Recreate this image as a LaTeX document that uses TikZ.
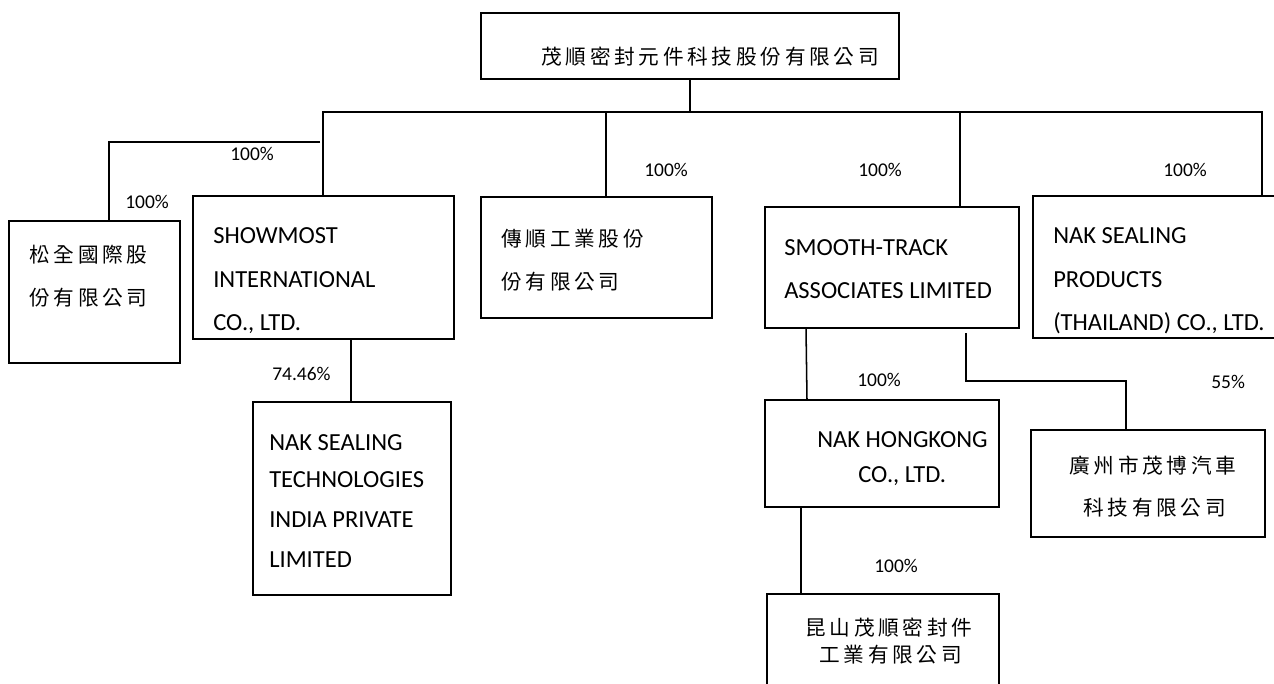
\documentclass[tikz,border=0pt]{standalone}
\usepackage{fontspec}
\setmainfont{Carlito}
\newfontfamily\cjk[LetterSpace=18]{Noto Sans CJK TC}
\newcommand\pxbox[5]{%
  \pgfmathsetmacro\bw{#4-#2}\pgfmathsetmacro\bh{#5-#3}%
  \pgfmathsetmacro\bx{(#2+#4)/2}\pgfmathsetmacro\by{(#3+#5)/2}%
  \node[orgbox,minimum width=\bw*0.75pt,minimum height=\bh*0.75pt] (#1) at (\bx,\by) {};}
\tikzset{
  orgbox/.style={draw,line width=1.15pt,inner sep=0pt,outer sep=0pt},
  link/.style={line width=1.15pt},
  en/.style={anchor=base west,inner sep=0pt,font=\fontsize{18.4pt}{20pt}\selectfont},
  zh/.style={anchor=base west,inner sep=0pt,font=\cjk\fontsize{15.5pt}{18pt}\selectfont},
  pct/.style={anchor=base west,inner sep=0pt,font=\fontsize{14.6pt}{17pt}\selectfont}
}
\begin{document}
\begin{tikzpicture}[x=0.75pt,y=-0.75pt]
\useasboundingbox (0,0) rectangle (1274,683);
\clip (0,0) rectangle (1274,683);
\fill[white] (0,0) rectangle (1274,683);
% boxes
\pxbox{top}{481}{13}{899}{79}
\pxbox{song}{9}{221}{180}{363}
\pxbox{show}{193}{196}{454}{339}
\pxbox{chuan}{481}{197}{712}{318}
\pxbox{smooth}{765}{207}{1019}{328}
\pxbox{thai}{1033}{196}{1290}{338}
\pxbox{india}{253}{402}{451}{595}
\pxbox{hk}{765}{400}{999}{507}
\pxbox{gz}{1031}{430}{1265}{537}
\pxbox{ks}{767}{594}{999}{710}
% connectors
\coordinate (stem) at (690,112);
\coordinate (busL) at (323,112);
\coordinate (busB) at (606,112);
\coordinate (busC) at (960,112);
\coordinate (busR) at (1262,112);
\coordinate (branchE) at (320,142);
\coordinate (branchW) at (109,142);
\coordinate (gzS) at (966,333);
\coordinate (gzK) at (966,381);
\coordinate (gzD) at (1126,381);
\coordinate (indiaX) at (351,0);
\coordinate (hkXa) at (806,0);
\coordinate (hkXb) at (807,0);
\coordinate (ksX) at (801,0);
\draw[link] (top.south -| stem) -- (stem);
\draw[link] (busL |- show.north) -- (busL) -- (busR) -- (busR |- thai.north);
\draw[link] (busB) -- (busB |- chuan.north);
\draw[link] (busC) -- (busC |- smooth.north);
\draw[link] (branchE) -- (branchW) -- (branchW |- song.north);
\draw[link] (indiaX |- show.south) -- (indiaX |- india.north);
\draw[link] (hkXa |- smooth.south) -- (hkXb |- hk.north);
\draw[link] (gzS) -- (gzK) -- (gzD) -- (gzD |- gz.north);
\draw[link] (ksX |- hk.south) -- (ksX |- ks.north);
% box texts
\node[zh] (t1) at (541,64) {茂順密封元件科技股份有限公司};
\node[zh] (s1) at (29,262) {松全國際股};
\node[zh] (s2) at (29,305) {份有限公司};
\node[en] (w1) at (213,243) {SHOWMOST};
\node[en] (w2) at (213,287) {INTERNATIONAL};
\node[en] (w3) at (213,330) {CO., LTD.};
\node[zh] (c1) at (501,246) {傳順工業股份};
\node[zh] (c2) at (501,289) {份有限公司};
\node[en] (m1) at (784,255) {SMOOTH-TRACK};
\node[en] (m2) at (784,298) {ASSOCIATES LIMITED};
\node[en] (h1) at (1053,243) {NAK SEALING};
\node[en] (h2) at (1053,287) {PRODUCTS};
\node[en] (h3) at (1053,330) {(THAILAND) CO., LTD.};
\node[en] (i1) at (269,450) {NAK SEALING};
\node[en] (i2) at (269,487) {TECHNOLOGIES};
\node[en] (i3) at (269,527) {INDIA PRIVATE};
\node[en] (i4) at (269,567) {LIMITED};
\node[en] (k1) at (817,447) {NAK HONGKONG};
\node[en] (k2) at (858,482) {CO., LTD.};
\node[zh] (g1) at (1069,473) {廣州市茂博汽車};
\node[zh] (g2) at (1083,515) {科技有限公司};
\node[zh] (q1) at (805,635) {昆山茂順密封件};
\node[zh] (q2) at (819,662) {工業有限公司};
% percentages
\node[pct] (p1) at (230,160) {100\%};
\node[pct] (p2) at (125,208) {100\%};
\node[pct] (p3) at (644,176) {100\%};
\node[pct] (p4) at (858,176) {100\%};
\node[pct] (p5) at (1163,176) {100\%};
\node[pct] (p6) at (272,380) {74.46\%};
\node[pct] (p7) at (857,386) {100\%};
\node[pct] (p8) at (1211,388) {55\%};
\node[pct] (p9) at (874,572) {100\%};
\end{tikzpicture}
\end{document}
